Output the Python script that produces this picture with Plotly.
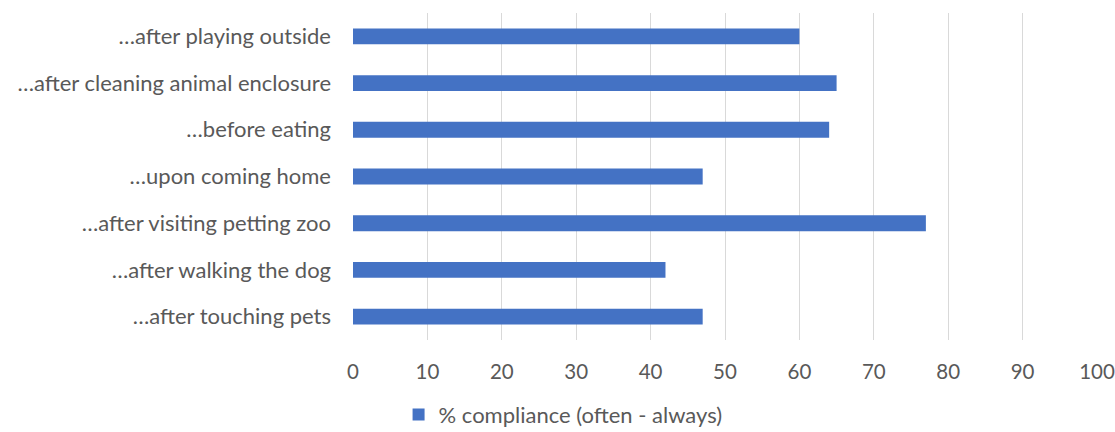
import plotly.graph_objects as go

# Hand-washing situations (bottom to top as drawn) and compliance values
situations = [
    "…after touching pets",
    "…after walking the dog",
    "…after visiting petting zoo",
    "…upon coming home",
    "…before eating",
    "…after cleaning animal enclosure",
    "…after playing outside",
]
compliance = [47, 42, 77, 47, 64, 65, 60]
x_ticks = [0, 10, 20, 30, 40, 50, 60, 70, 80, 90, 100]

text_color = "#595959"
font_family = "Lato, Open Sans, sans-serif"
font_size = 22

fig = go.Figure(
    go.Bar(
        x=compliance,
        y=situations,
        orientation="h",
        name="% compliance (often - always)",
        marker=dict(color="#4472C4", line=dict(width=0)),
        width=0.34,
        showlegend=True,
    )
)

fig.update_layout(
    width=1115,
    height=432,
    margin=dict(l=353, r=18, t=13, b=92, autoexpand=False),
    paper_bgcolor="white",
    plot_bgcolor="white",
    font=dict(family=font_family, size=font_size, color=text_color),
    legend=dict(
        orientation="h",
        xref="container",
        yref="container",
        x=0.505,
        xanchor="center",
        y=0.04,
        yanchor="middle",
        font=dict(size=font_size, color=text_color),
        itemwidth=30,
    ),
    xaxis=dict(
        range=[0, 100],
        tickvals=x_ticks,
        showgrid=True,
        gridcolor="#d9d9d9",
        gridwidth=1.3,
        zeroline=False,
        showline=False,
        ticks="",
        automargin=False,
        ticklabeloverflow="allow",
        ticklabelstandoff=17,
        tickfont=dict(size=20.5, color=text_color),
        fixedrange=True,
    ),
    yaxis=dict(
        categoryorder="array",
        categoryarray=situations,
        showgrid=False,
        zeroline=False,
        showline=False,
        ticks="",
        automargin=False,
        ticklabelstandoff=21,
        tickfont=dict(size=font_size, color=text_color),
        range=[-0.5, 6.5],
    ),
    bargap=0.66,
)

fig.write_html("out.html")
